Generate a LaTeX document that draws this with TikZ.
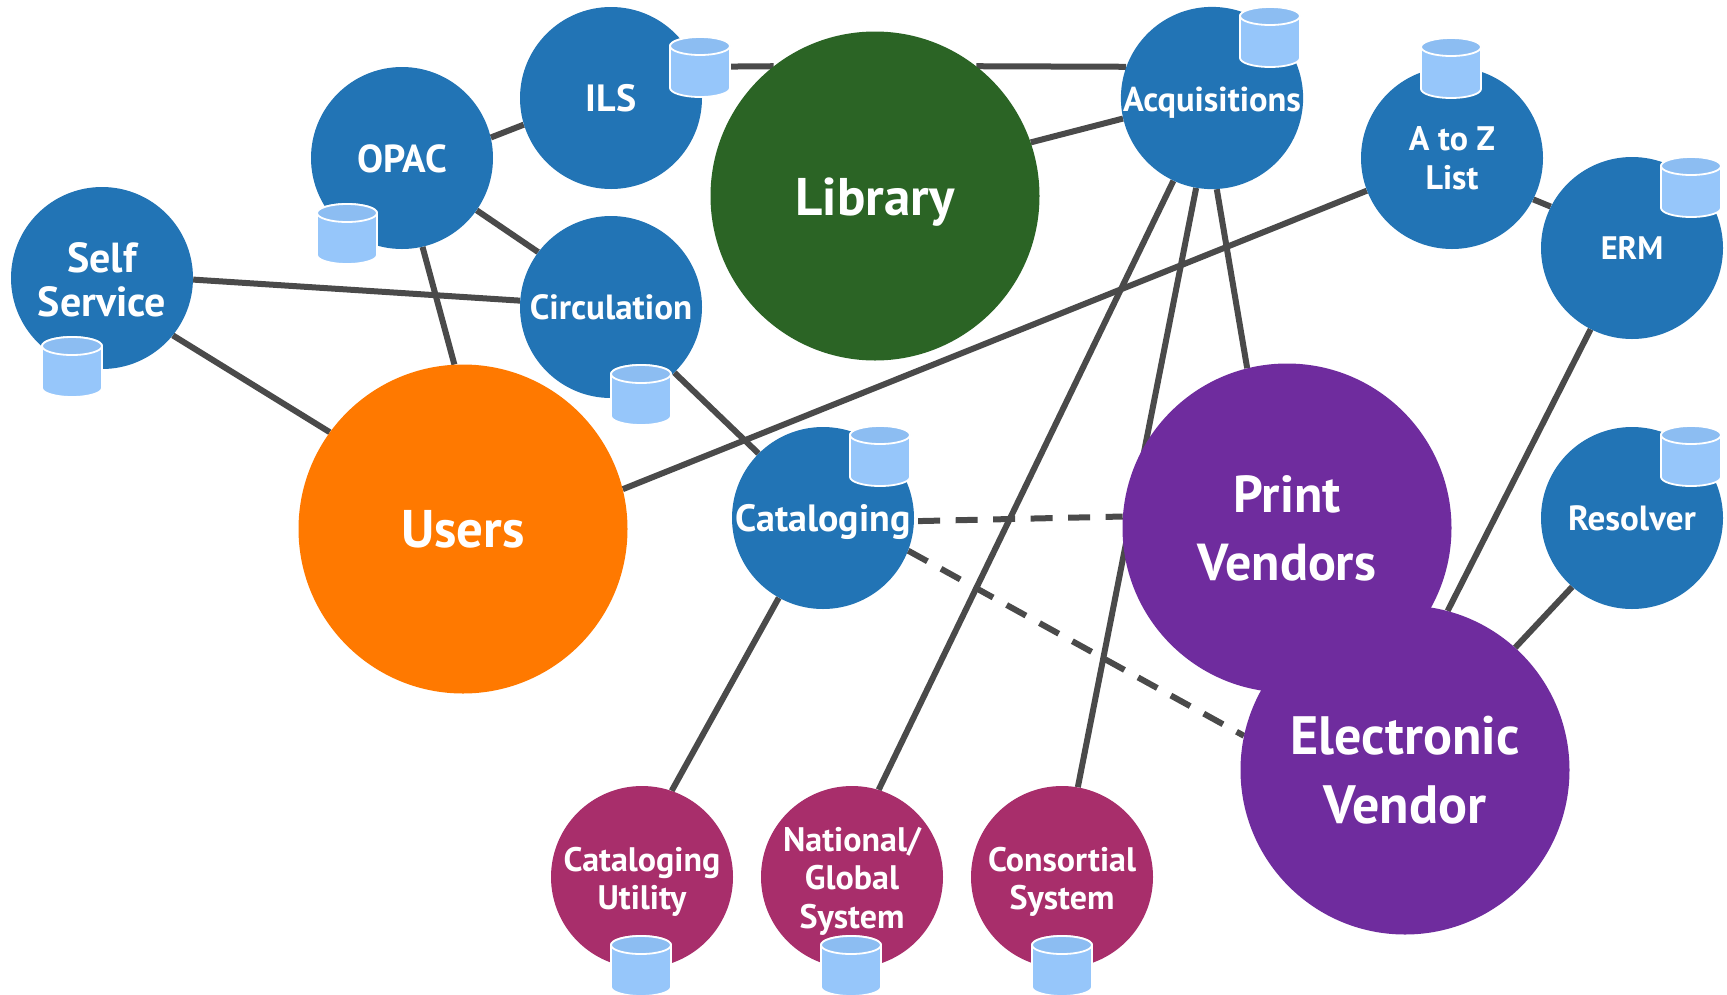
\documentclass[tikz,border=0pt]{standalone}
\usepackage{fontspec}
\setmainfont{PT Sans}
\usetikzlibrary{backgrounds}
\definecolor{cblue}{HTML}{2274B5}
\definecolor{cgreen}{HTML}{2B6425}
\definecolor{corange}{HTML}{FF7900}
\definecolor{cpurple}{HTML}{6F2C9E}
\definecolor{cmag}{HTML}{A82E6B}
\definecolor{cline}{HTML}{4A4A4A}
\definecolor{cylbody}{HTML}{96C6FA}
\definecolor{cyltop}{HTML}{8CBDF2}
\newcommand{\lift}[1]{\rule{0pt}{#1pt}}
\tikzset{
  x=1pt,y=-1pt,
  fs/.style 2 args={font=\bfseries\fontsize{#1}{#2}\selectfont},
  disc/.style={circle,inner sep=0pt,minimum size=182pt,align=center,text=white,fs={34}{38.5}},
  bluedisc/.style={disc,fill=cblue},
  magdisc/.style={disc,fill=cmag},
  bigdisc/.style={disc,minimum size=329pt,fs={53}{68}},
  conn/.style={draw=cline,line width=6pt},
  dashconn/.style={conn,dash pattern=on 22pt off 15.5pt},
  store/.pic={
    \path[fill=cylbody,draw=white,line width=1.8pt]
      (-30,-21) -- (-30,21) arc[start angle=180,end angle=360,x radius=30pt,y radius=9pt]
      -- (30,-21) arc[start angle=0,end angle=180,x radius=30pt,y radius=9pt] -- cycle;
    \path[fill=cyltop,draw=white,line width=1.8pt] (0,-21) ellipse[x radius=30pt,y radius=9pt];
  },
}
\begin{document}
\begin{tikzpicture}
\useasboundingbox (0,0) rectangle (1727,994);
% discs
\node[bluedisc,fs={42}{44}] (self) at (102,278) {\lift{33}Self\\Service};
\node[bluedisc,fs={39}{44}] (opac) at (402,158) {\lift{30}OPAC};
\node[bluedisc,fs={38}{44}] (ils) at (611,98) {ILS};
\node[bluedisc,fs={35}{44}] (circ) at (611,307) {Circulation};
\node[bigdisc,fill=cgreen] (library) at (875,196) {\lift{50}Library};
\node[bluedisc,fs={34.5}{44}] (acq) at (1212,98) {\lift{33}Acquisitions};
\node[bluedisc] (atoz) at (1452,158) {A to Z\\List};
\node[bluedisc,fs={32.5}{44}] (erm) at (1632,248) {ERM};
\node[bigdisc,fill=corange] (users) at (463,529) {Users};
\node[bluedisc,fs={38}{44}] (cat) at (823,518) {\lift{35}Cataloging};
\node[bigdisc,fill=cpurple,fs={52}{68}] (print) at (1287,528) {Print\\Vendors};
\node[bigdisc,fill=cpurple,fs={54}{69}] (ev) at (1405,770) {Electronic\\Vendor};
\node[bluedisc,fs={35}{44}] (res) at (1632,518) {Resolver};
\node[magdisc] (util) at (642,877) {\lift{34}Cataloging\\Utility};
\node[magdisc] (nat) at (852,877) {\lift{32}National/\\Global\\System};
\node[magdisc] (cons) at (1062,877) {\lift{34}Consortial\\System};
% connectors
\begin{scope}[on background layer]
\draw[conn] (opac.13) -- (ils.197);
\draw[conn] (opac.-35) -- (circ.143.5);
\draw[conn] (opac.-77) -- (users.93);
\draw[conn] (self.-1.4) -- (circ.176);
\draw[conn] (self.-39) -- (users.144);
\draw[conn] (ils.20) -- (library.128);
\draw[conn] (library.52) -- (acq.160);
\draw[conn] (library.19) -- (acq.193);
\draw[conn] (acq.-115) -- (nat.73);
\draw[conn] (acq.-100.5) -- (cons.80);
\draw[conn] (acq.-87) -- (print.104);
\draw[conn] (atoz.-159.4) -- (users.14.3);
\draw[conn] (atoz.-27.5) -- (erm.153);
\draw[conn] (erm.-117.5) -- (ev.75);
\draw[conn] (res.-131.6) -- (ev.48);
\draw[conn] (circ.-46) -- (cat.135);
\draw[conn] (cat.-119) -- (util.71.6);
\draw[dashconn,dash phase=33.5pt] (cat.-2.7) -- (print.176.5);
\draw[dashconn] (cat.-21.7) -- (ev.168);
\end{scope}
% data stores
\pic at (72,367) {store};
\pic at (347,234) {store};
\pic at (700,67) {store};
\pic at (641,395) {store};
\pic at (880,456) {store};
\pic at (1270,37) {store};
\pic at (1451,68) {store};
\pic at (1691,187) {store};
\pic at (1691,456) {store};
\pic at (641,966) {store};
\pic at (851,966) {store};
\pic at (1062,966) {store};
\end{tikzpicture}
\end{document}
